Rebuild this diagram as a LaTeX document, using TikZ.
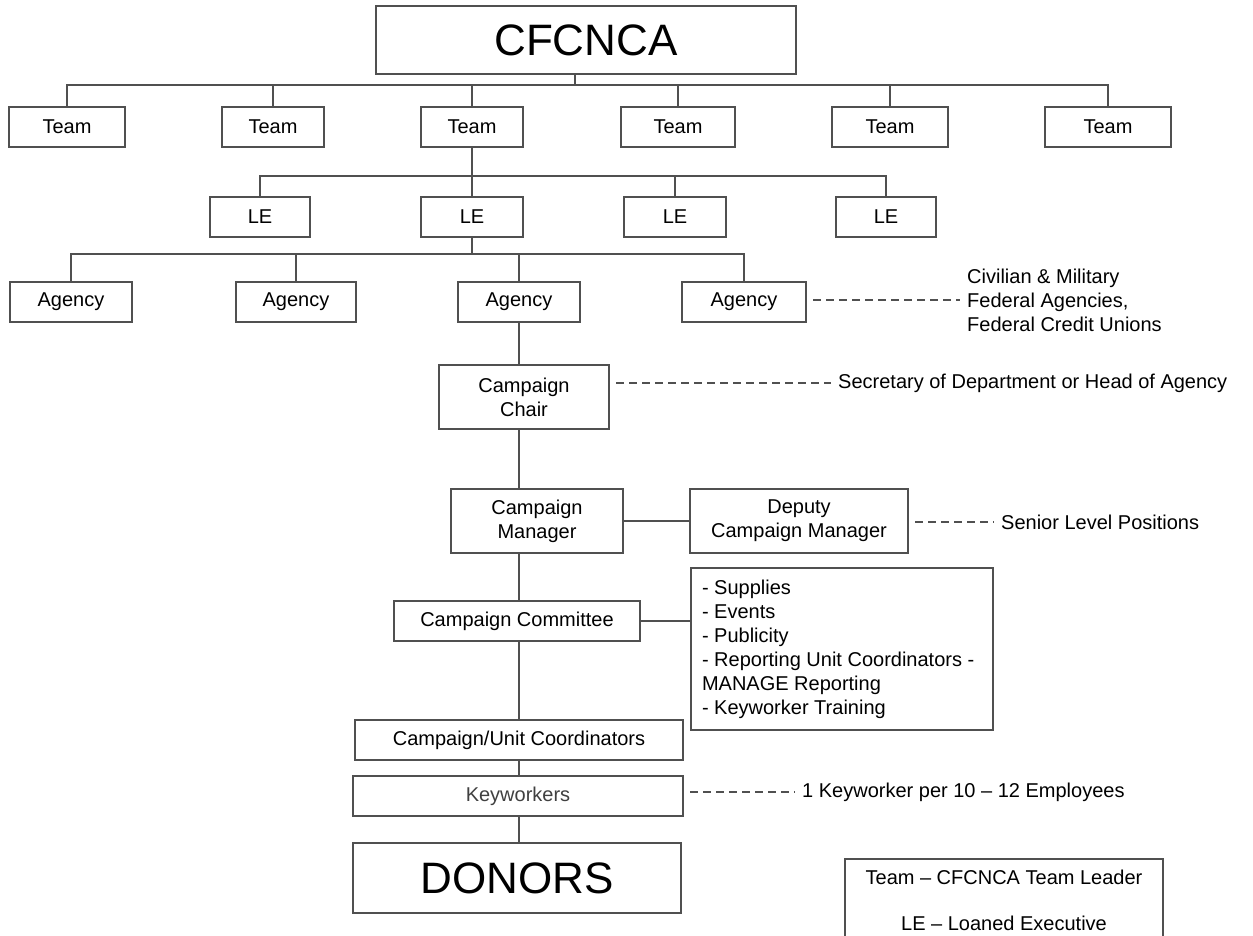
\documentclass[tikz,border=0pt]{standalone}
\usepackage{fontspec}
\setmainfont{Liberation Sans}
\definecolor{lc}{HTML}{505050}
\newcommand\myfs{\fontsize{20}{24}\selectfont}
\newcommand\mybigfs{\fontsize{44}{50}\selectfont}
\begin{document}
\begin{tikzpicture}[x=1pt,y=-1pt,
  box/.style={draw=lc, line width=2pt, inner sep=0pt, outer sep=0pt, font=\myfs, text=black, align=center},
  conn/.style={draw=lc, line width=2pt},
  dashline/.style={draw=lc, line width=2pt, dash pattern=on 8pt off 5pt, shorten <=7pt},
  anntext/.style={font=\myfs, text=black, inner xsep=7pt, inner ysep=0pt, align=left, anchor=west}]
\useasboundingbox (0,0) rectangle (1253,936);
\fill[white] (0,0) rectangle (1253,936);

% top
\node[box, minimum width=420pt, minimum height=68pt, font=\mybigfs] (cfc) at (586,40) {CFCNCA};
% teams
\node[box, minimum width=116pt, minimum height=40pt] (t1) at (67,127) {Team};
\node[box, minimum width=102pt, minimum height=40pt] (t2) at (273,127) {Team};
\node[box, minimum width=102pt, minimum height=40pt] (t3) at (472,127) {Team};
\node[box, minimum width=114pt, minimum height=40pt] (t4) at (678,127) {Team};
\node[box, minimum width=116pt, minimum height=40pt] (t5) at (890,127) {Team};
\node[box, minimum width=126pt, minimum height=40pt] (t6) at (1108,127) {Team};
% LEs
\node[box, minimum width=100pt, minimum height=40pt] (l1) at (260,217) {LE};
\node[box, minimum width=102pt, minimum height=40pt] (l2) at (472,217) {LE};
\node[box, minimum width=102pt, minimum height=40pt] (l3) at (675,217) {LE};
\node[box, minimum width=100pt, minimum height=40pt] (l4) at (886,217) {LE};
% agencies
\node[box, minimum width=122pt, minimum height=40pt] (a1) at (71,302) {Agency};
\node[box, minimum width=120pt, minimum height=40pt] (a2) at (296,302) {Agency};
\node[box, minimum width=122pt, minimum height=40pt] (a3) at (519,302) {Agency};
\node[box, minimum width=124pt, minimum height=40pt] (a4) at (744,302) {Agency};
% chain
\node[box, minimum width=170pt, minimum height=64pt] (chair) at (524,397) {Campaign\\Chair};
\node[box, minimum width=172pt, minimum height=64pt] (mgr) at (537,521) {Campaign\\Manager};
\node[box, minimum width=218pt, minimum height=64pt] (dep) at (799,521) {Deputy\\Campaign Manager};
\node[box, minimum width=246pt, minimum height=40pt] (com) at (517,621) {Campaign Committee};
\node[box, minimum width=302pt, minimum height=162pt, text width=280pt, inner xsep=11pt, align=flush left] (list) at (842,649)
  {- Supplies\\- Events\\- Publicity\\- Reporting Unit Coordinators -\\MANAGE Reporting\\- Keyworker Training};
\node[box, minimum width=328pt, minimum height=40pt] (coord) at (519,740) {Campaign/Unit Coordinators};
\node[box, minimum width=330pt, minimum height=40pt, text=black!75] (kw) at (518,796) {Keyworkers};
\node[box, minimum width=328pt, minimum height=70pt, font=\mybigfs] (don) at (517,878) {DONORS};

% legend
\node[box, minimum width=318pt, inner ysep=10.5pt, anchor=north] (leg) at (1004,859)
  {Team -- CFCNCA Team Leader\\[22pt]LE -- Loaned Executive};

% annotations
\node[anntext] (civ) at (960,300) {Civilian \& Military\\Federal Agencies,\\Federal Credit Unions};
\node[anntext] (sec) at (831,383) {Secretary of Department or Head of Agency};
\node[anntext] (sen) at (994,522) {Senior Level Positions};
\node[anntext] (kwn) at (795,792) {1 Keyworker per 10 -- 12 Employees};

% connectors: top level
\coordinate (b0) at (575,85);
\draw[conn] (cfc.south -| b0) -- (b0);
\draw[conn] (t1.north) -- (t1.north |- b0) -- (t6.north |- b0) -- (t6.north);
\foreach \n in {t2,t3,t4,t5} \draw[conn] (\n.north) -- (\n.north |- b0);
% LE level
\coordinate (b1) at (0,176);
\draw[conn] (t3.south) -- (l2.north);
\draw[conn] (l1.north) -- (l1.north |- b1) -- (l4.north |- b1) -- (l4.north);
\draw[conn] (l3.north) -- (l3.north |- b1);
% agency level
\coordinate (b2) at (0,254);
\draw[conn] (l2.south) -- (l2.south |- b2);
\draw[conn] (a1.north) -- (a1.north |- b2) -- (a4.north |- b2) -- (a4.north);
\draw[conn] (a2.north) -- (a2.north |- b2);
\draw[conn] (a3.north) -- (a3.north |- b2);
% spine
\coordinate (vx) at (519,0);
\draw[conn] (a3.south -| vx) -- (chair.north -| vx);
\draw[conn] (chair.south -| vx) -- (mgr.north -| vx);
\draw[conn] (mgr.south -| vx) -- (com.north -| vx);
\draw[conn] (com.south -| vx) -- (coord.north -| vx);
\draw[conn] (coord.south -| vx) -- (kw.north -| vx);
\draw[conn] (kw.south -| vx) -- (don.north -| vx);
\draw[conn] (mgr.east) -- (dep.west);
\draw[conn] (com.east) -- (com.east -| list.west);
% dashed annotations
\draw[dashline] (civ.west -| a4.east) -- (civ.west);
\draw[dashline] (sec.west -| chair.east) -- (sec.west);
\draw[dashline] (sen.west -| dep.east) -- (sen.west);
\draw[dashline] (kwn.west -| kw.east) -- (kwn.west);
\end{tikzpicture}
\end{document}
